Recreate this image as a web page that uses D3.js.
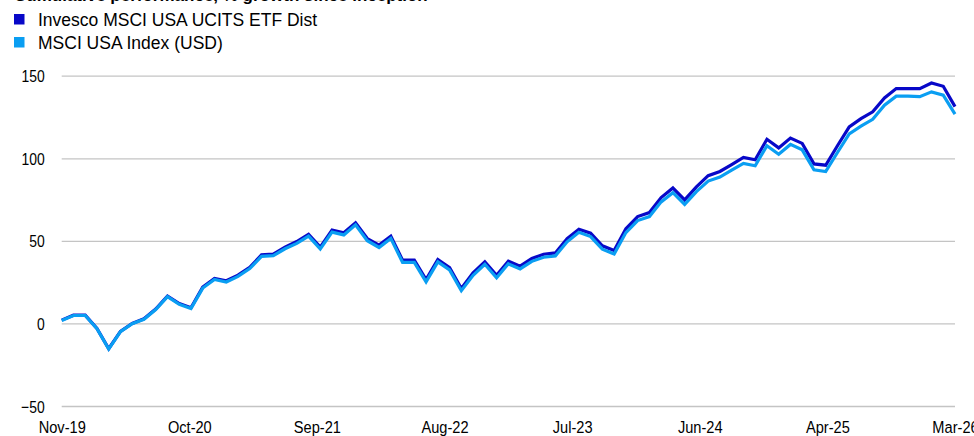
<!DOCTYPE html>
<html>
<head>
<meta charset="utf-8">
<script src="https://cdn.jsdelivr.net/npm/d3@7"></script>
<style>
  html, body { margin: 0; padding: 0; background: #fff; overflow: hidden; }
  svg text { font-family: 'Liberation Sans', Arial, sans-serif; fill: #000; }
</style>
</head>
<body>
<svg id="chart" width="974" height="436"></svg>
<script>
// ---- data ----
const titleText = "Cumulative performance, % growth since inception";
const seriesNames = ["Invesco MSCI USA UCITS ETF Dist", "MSCI USA Index (USD)"];
const tickLabels = ["Nov-19", "Oct-20", "Sep-21", "Aug-22", "Jul-23", "Jun-24", "Apr-25", "Mar-26"];
const yTicks = [-50, 0, 50, 100, 150];
const etfValues = [
  2.0, 5.0, 5.0, -3.0, -15.3, -4.8, 0.0, 2.8, 8.7, 16.5,
  12.0, 9.5, 22.0, 27.2, 25.8, 29.2, 34.0, 41.5, 42.0, 46.2,
  49.6, 54.0, 46.2, 56.5, 54.9, 60.9, 51.4, 47.4, 52.8, 38.3,
  38.3, 26.6, 38.7, 33.8, 21.2, 30.6, 37.3, 29.2, 37.7, 34.7,
  39.3, 41.9, 42.7, 51.4, 57.0, 54.6, 47.0, 44.2, 57.3, 64.7,
  67.1, 76.2, 82.0, 74.8, 82.7, 89.5, 92.0, 96.2, 100.5, 99.1,
  111.5, 106.3, 112.2, 109.0, 96.6, 95.8, 107.6, 119.0, 124.0, 128.1,
  136.5, 142.2, 142.2, 142.2, 145.6, 143.6, 131.3
];
const indexValues = [
  1.8, 4.8, 4.8, -3.2, -15.5, -5.0, -0.2, 2.5, 8.4, 16.2,
  11.6, 9.0, 21.4, 26.6, 25.1, 28.5, 33.2, 40.6, 41.0, 45.2,
  48.5, 52.9, 45.1, 55.3, 53.6, 59.7, 50.1, 46.0, 51.5, 37.0,
  37.0, 25.2, 37.3, 32.4, 19.8, 29.1, 35.8, 27.6, 36.1, 33.0,
  37.6, 40.1, 40.9, 49.4, 55.2, 52.6, 45.0, 42.0, 55.0, 62.3,
  64.7, 73.6, 79.2, 72.1, 79.8, 86.2, 88.6, 92.8, 96.9, 95.5,
  107.6, 102.4, 108.4, 105.1, 93.0, 92.0, 103.5, 114.8, 119.4, 123.6,
  132.1, 137.6, 137.6, 137.3, 140.2, 138.2, 126.7
];
const colors = ["#0808C8", "#0A9EF2"];

// ---- layout ----
const svg = d3.select("#chart");
const x = d3.scaleLinear().domain([0, etfValues.length - 1]).range([61.7, 955]);
const y = d3.scaleLinear().domain([-50, 150]).range([406, 75.7]);

// title (clipped at top in reference)
svg.append("text")
  .attr("x", 14).attr("y", 1)
  .style("font-weight", "bold").style("font-size", "17px")
  .text(titleText);

// legend
const legend = svg.append("g");
seriesNames.forEach((name, i) => {
  const ly = 14 + i * 23;
  legend.append("rect").attr("x", 14).attr("y", ly).attr("width", 10.5).attr("height", 10.5).attr("fill", colors[i]);
  legend.append("text").attr("x", 38).attr("y", ly + 11.5).style("font-size", "17.5px").text(name);
});

// gridlines + y labels
const yAxis = d3.axisLeft(y).tickValues(yTicks).tickSize(-(955 - 61.7)).tickPadding(17);
const gy = svg.append("g").attr("transform", "translate(61.7,0)").call(yAxis);
gy.select(".domain").remove();
gy.selectAll(".tick line").attr("stroke", "#c4c4c4").attr("stroke-width", 1.3);
gy.selectAll(".tick text")
  .style("font-size", "17px").attr("dy", "0.36em")
  .attr("x", 0).attr("transform", "translate(-17,0) scale(0.82,1)");

// x labels at evenly spaced positions
const n = tickLabels.length;
const xTickVals = d3.range(n).map(k => k * (etfValues.length - 1) / (n - 1));
const xAxis = d3.axisBottom(x).tickValues(xTickVals).tickFormat((d, i) => tickLabels[i]).tickSize(0).tickPadding(0);
const gx = svg.append("g").attr("transform", "translate(0,433)").call(xAxis);
gx.select(".domain").remove();
gx.selectAll(".tick text")
  .style("font-size", "17px").attr("dy", null).attr("y", 0)
  .attr("transform", "scale(0.86,1)");

// lines
const line = d3.line().x((d, i) => x(i)).y(d => y(d));
[etfValues, indexValues].forEach((vals, i) => {
  svg.append("path").datum(vals)
    .attr("fill", "none").attr("stroke", colors[i])
    .attr("stroke-width", 3.2).attr("stroke-linejoin", "miter")
    .attr("d", line);
});
</script>
</body>
</html>
